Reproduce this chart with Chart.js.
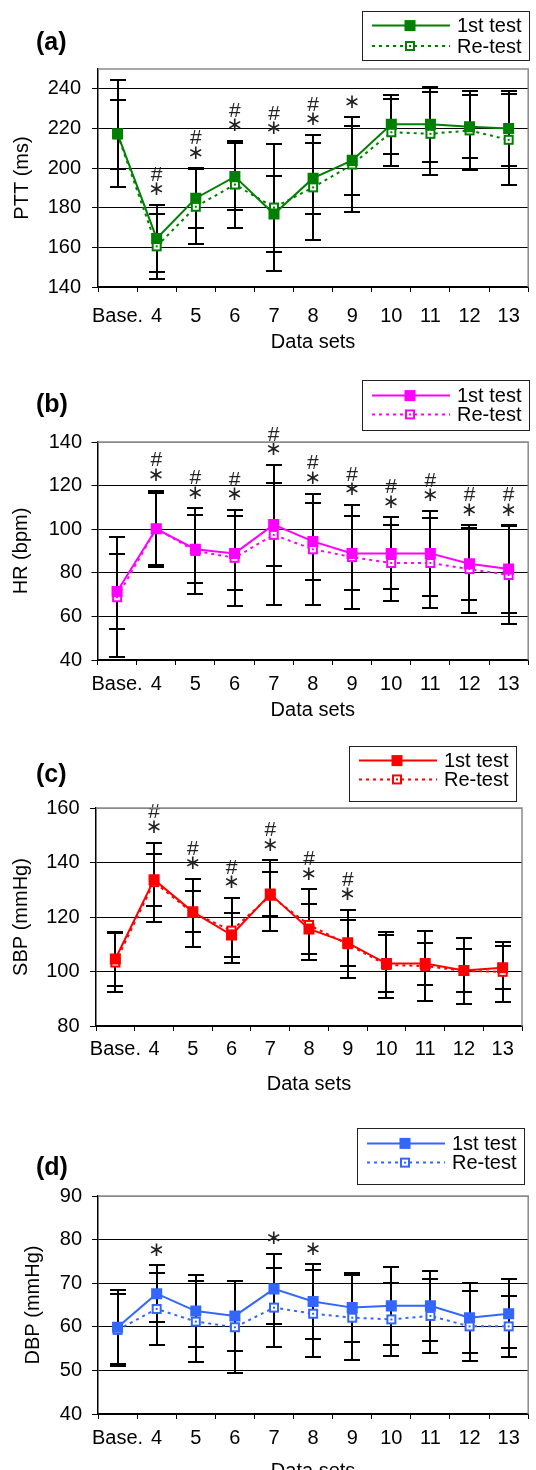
<!DOCTYPE html>
<html>
<head>
<meta charset="utf-8">
<script src="https://cdn.jsdelivr.net/npm/chart.js@4.4.1/dist/chart.umd.min.js"></script>
<style>
  html, body { margin: 0; padding: 0; background: #fff; overflow: hidden; }
  .panel { position: absolute; left: 0; width: 536px; }
  canvas { display: block; }
</style>
</head>
<body>
<div class="panel" style="top:0px"><canvas id="chartA" width="536" height="368"></canvas></div>
<div class="panel" style="top:368px"><canvas id="chartB" width="536" height="367"></canvas></div>
<div class="panel" style="top:735px"><canvas id="chartC" width="536" height="365"></canvas></div>
<div class="panel" style="top:1100px"><canvas id="chartD" width="536" height="400"></canvas></div>

<script>
const labels = ["Base.", "4", "5", "6", "7", "8", "9", "10", "11", "12", "13"];

// PTT (ms)
const pttFirst = [217.3, 164.5, 184.8, 195.7, 176.8, 194.9, 203.9, 222.1, 222.1, 220.9, 220.0];
const pttRetest = [217.0, 160.5, 180.5, 191.7, 180.1, 190.3, 201.8, 218.1, 217.3, 219.0, 214.3];
const pttFirstSd = [27, 17, 15, 17, 19, 18, 17.5, 15, 19, 16, 19];
const pttRetestSd = [17.5, 16.5, 19, 22, 32, 26.5, 23.8, 17, 21, 20, 23];
const pttStar = [0, 1, 1, 1, 1, 1, 1, 0, 0, 0, 0];
const pttHash = [0, 1, 1, 1, 1, 1, 0, 0, 0, 0, 0];

// HR (bpm)
const hrFirst = [71.4, 100.2, 90.8, 88.9, 102.1, 94.4, 88.9, 88.9, 88.9, 84.2, 81.7];
const hrRetest = [68.8, 100.2, 90.0, 86.9, 97.4, 90.8, 87.2, 84.5, 84.5, 81.7, 79.0];
const hrFirstSd = [17, 17.5, 15.5, 17, 19, 17.5, 17, 16.5, 19.5, 16.5, 20];
const hrRetestSd = [27.5, 16.5, 19.5, 22, 32, 25.5, 24, 17.5, 20.5, 20, 22.5];
const hrStar = [0, 1, 1, 1, 1, 1, 1, 1, 1, 1, 1];
const hrHash = [0, 1, 1, 1, 1, 1, 1, 1, 1, 1, 1];

// SBP (mmHg)
const sbpFirst = [104.6, 133.7, 121.9, 113.4, 128.4, 115.6, 110.5, 102.9, 102.9, 100.4, 101.4];
const sbpRetest = [103.3, 132.8, 121.5, 115.0, 127.8, 117.1, 110.0, 102.4, 102.0, 100.2, 99.9];
const sbpFirstSd = [10, 9.5, 7.5, 8, 8, 9, 8.5, 10.5, 7.7, 8, 8];
const sbpRetestSd = [11, 14.5, 12.5, 12, 13, 13, 12.5, 12, 13, 12, 11];
const sbpStar = [0, 1, 1, 1, 1, 1, 1, 0, 0, 0, 0];
const sbpHash = [0, 1, 1, 1, 1, 1, 1, 0, 0, 0, 0];

// DBP (mmHg)
const dbpFirst = [59.9, 67.6, 63.6, 62.5, 68.7, 65.8, 64.4, 64.8, 64.8, 62.1, 63.0];
const dbpRetest = [59.3, 64.1, 61.2, 59.9, 64.4, 63.0, 62.1, 61.7, 62.5, 60.1, 60.1];
const dbpFirstSd = [8.5, 6.5, 8.2, 8, 8, 8.5, 8, 9, 8, 8, 7.9];
const dbpRetestSd = [8.3, 8.3, 9.2, 10.6, 9, 10, 9.7, 8.3, 8.5, 8, 7];
const dbpStar = [0, 1, 0, 0, 1, 1, 0, 0, 0, 0, 0];
const dbpHash = [0, 0, 0, 0, 0, 0, 0, 0, 0, 0, 0];

const FONT = "'Liberation Sans', Arial, Helvetica, sans-serif";
Chart.defaults.font.family = FONT;
Chart.defaults.font.size = 20;
Chart.defaults.color = "#000";

// hollow square marker with a small centre dot (re-test)
function hollowSquare(color) {
  const c = document.createElement("canvas");
  c.width = 12; c.height = 12;
  const g = c.getContext("2d");
  g.fillStyle = "#fff";
  g.fillRect(1, 1, 10, 10);
  g.strokeStyle = color;
  g.lineWidth = 2;
  g.strokeRect(2, 2, 8, 8);
  g.fillStyle = color;
  g.fillRect(5, 5, 2, 2);
  return c;
}

// vertical SD bars with caps, behind the markers
const errorBars = {
  id: "errorBars",
  beforeDatasetsDraw(chart) {
    const { ctx, scales: { x, y } } = chart;
    ctx.save();
    ctx.strokeStyle = "#000";
    ctx.lineWidth = 2;
    chart.data.datasets.forEach(ds => {
      ds.data.forEach((v, i) => {
        const px = Math.round(x.getPixelForValue(i));
        const hi = Math.round(y.getPixelForValue(v + ds.sd[i]));
        const lo = Math.round(y.getPixelForValue(v - ds.sd[i]));
        ctx.beginPath();
        ctx.moveTo(px, hi); ctx.lineTo(px, lo);
        ctx.moveTo(px - 8, hi); ctx.lineTo(px + 8, hi);
        ctx.moveTo(px - 8, lo); ctx.lineTo(px + 8, lo);
        ctx.stroke();
      });
    });
    ctx.restore();
  }
};

// significance marks above the highest cap
const sigMarks = {
  id: "sigMarks",
  afterDatasetsDraw(chart, args, opts) {
    const { ctx, scales: { x, y } } = chart;
    const sets = chart.data.datasets;
    ctx.save();
    ctx.fillStyle = "#222";
    ctx.textAlign = "center";
    ctx.textBaseline = "middle";
    labels.forEach((_, i) => {
      if (!opts.star[i] && !opts.hash[i]) return;
      const top = Math.min(...sets.map(ds => y.getPixelForValue(ds.data[i] + ds.sd[i])));
      const px = x.getPixelForValue(i);
      const starY = top - 15;
      if (opts.star[i]) {
        ctx.font = "20px 'DejaVu Sans', sans-serif";
        ctx.fillText("\u2217", px, starY);
      }
      if (opts.hash[i]) {
        ctx.font = "21px " + FONT;
        ctx.fillText("#", px, starY - 15);
      }
    });
    ctx.restore();
  }
};

// gray plot-area frame on top and right, boxed legend, panel tag
const frame = {
  id: "frame",
  afterDraw(chart, args, opts) {
    const { ctx, chartArea: a } = chart;
    ctx.save();
    ctx.strokeStyle = "#8a8a8a";
    ctx.lineWidth = 1.5;
    ctx.beginPath();
    ctx.moveTo(a.left, a.top);
    ctx.lineTo(a.right, a.top);
    ctx.lineTo(a.right, a.bottom);
    ctx.stroke();

    const b = opts.box;
    ctx.strokeStyle = "#222";
    ctx.lineWidth = 1;
    ctx.strokeRect(b.x + 0.5, b.y + 0.5, b.w, b.h);
    chart.data.datasets.forEach((ds, k) => {
      const ry = b.rows[k];
      ctx.strokeStyle = ds.borderColor;
      ctx.lineWidth = ds.borderWidth;
      ctx.setLineDash(ds.borderDash || []);
      ctx.beginPath();
      ctx.moveTo(b.x + 10, ry);
      ctx.lineTo(b.x + 88, ry);
      ctx.stroke();
      ctx.setLineDash([]);
      ctx.fillStyle = ds.pointBackgroundColor;
      Chart.helpers.drawPoint(ctx, {
        pointStyle: ds.pointStyle, radius: ds.pointRadius, rotation: 0, borderWidth: 0
      }, b.x + 48, ry);
      ctx.fillStyle = "#000";
      ctx.font = "20px " + FONT;
      ctx.textAlign = "left";
      ctx.textBaseline = "middle";
      ctx.fillText(ds.label, b.x + 95, ry + 1);
    });

    ctx.font = "bold 25px " + FONT;
    ctx.fillStyle = "#000";
    ctx.textAlign = "left";
    ctx.textBaseline = "middle";
    ctx.fillText(opts.tag, 36, opts.tagY);
    ctx.restore();
  }
};

const panels = [
  { id: "chartA", tag: "(a)", tagY: 43, yTitle: "PTT (ms)", color: "#008000",
    min: 140, max: 250, step: 20,
    first: pttFirst, retest: pttRetest, firstSd: pttFirstSd, retestSd: pttRetestSd,
    star: pttStar, hash: pttHash,
    top: 69, bottom: 287, left: 98, right: 535, xH: 81,
    tickPad: 12, titlePad: 14, yTickPad: 11, yTitlePad: 10.5,
    box: { x: 362, y: 11, w: 167, h: 49, rows: [25.6, 46] } },
  { id: "chartB", tag: "(b)", tagY: 37, yTitle: "HR (bpm)", color: "#FF00FF",
    min: 40, max: 140, step: 20,
    first: hrFirst, retest: hrRetest, firstSd: hrFirstSd, retestSd: hrRetestSd,
    star: hrStar, hash: hrHash,
    top: 74, bottom: 292, left: 97.5, right: 535, xH: 75,
    tickPad: 7, titlePad: 13, yTickPad: 9.5, yTitlePad: 9.5,
    box: { x: 362, y: 12, w: 167, h: 50, rows: [27.6, 46.4] } },
  { id: "chartC", tag: "(c)", tagY: 40, yTitle: "SBP (mmHg)", color: "#FF0000",
    min: 80, max: 160, step: 20,
    first: sbpFirst, retest: sbpRetest, firstSd: sbpFirstSd, retestSd: sbpRetestSd,
    star: sbpStar, hash: sbpHash,
    top: 73, bottom: 291, left: 96, right: 522, xH: 74,
    tickPad: 6, titlePad: 4, yTickPad: 10.5, yTitlePad: 9.5,
    box: { x: 349, y: 11, w: 167, h: 55, rows: [25.6, 44.4] } },
  { id: "chartD", tag: "(d)", tagY: 68, yTitle: "DBP (mmHg)", color: "#3366FF",
    min: 40, max: 90, step: 10,
    first: dbpFirst, retest: dbpRetest, firstSd: dbpFirstSd, retestSd: dbpRetestSd,
    star: dbpStar, hash: dbpHash,
    top: 96, bottom: 314, left: 98, right: 532, xH: 86,
    tickPad: 7, titlePad: 17, yTickPad: 10, yTitlePad: 21.5,
    box: { x: 357, y: 28, w: 167, h: 56, rows: [43.4, 62.6] } }
];

panels.forEach(p => {
  new Chart(document.getElementById(p.id), {
    type: "line",
    data: {
      labels: labels,
      datasets: [
        {
          label: "1st test",
          data: p.first,
          sd: p.firstSd,
          borderColor: p.color,
          borderWidth: 2,
          pointStyle: "rect",
          pointRadius: 7.8,
          pointBorderWidth: 0,
          pointBackgroundColor: p.color,
          tension: 0,
          fill: false
        },
        {
          label: "Re-test",
          data: p.retest,
          sd: p.retestSd,
          borderColor: p.color,
          borderWidth: 2,
          borderDash: [3, 4],
          pointStyle: hollowSquare(p.color),
          pointRadius: 6,
          pointBorderWidth: 0,
          pointBackgroundColor: "#fff",
          tension: 0,
          fill: false
        }
      ]
    },
    options: {
      responsive: false,
      animation: false,
      events: [],
      layout: { padding: { top: p.top, right: 536 - p.right, bottom: 0, left: 0 } },
      scales: {
        x: {
          type: "category",
          offset: true,
          afterFit: s => { s.height = p.xH; },
          grid: { offset: true, drawOnChartArea: false, drawTicks: true, tickLength: 5, color: "#000" },
          border: { color: "#000", width: 1.5 },
          ticks: { padding: p.tickPad, maxRotation: 0, autoSkip: false, color: "#000" },
          title: { display: true, text: "Data sets", color: "#000", padding: { top: 0, bottom: p.titlePad } }
        },
        y: {
          min: p.min,
          max: p.max,
          afterFit: s => { s.width = p.left; },
          ticks: { stepSize: p.step, includeBounds: false, padding: p.yTickPad, color: "#000" },
          grid: {
            color: c => (c.tick && c.tick.value === p.max ? "#8a8a8a" : "#000"),
            tickColor: "#000",
            tickLength: 6,
            lineWidth: 1
          },
          border: { color: "#000", width: 1.5 },
          title: { display: true, text: p.yTitle, color: "#000", padding: { top: p.yTitlePad, bottom: 0 } }
        }
      },
      plugins: {
        legend: { display: false },
        tooltip: { enabled: false },
        sigMarks: { star: p.star, hash: p.hash },
        frame: { box: p.box, tag: p.tag, tagY: p.tagY }
      }
    },
    plugins: [errorBars, sigMarks, frame]
  });
});
</script>
</body>
</html>
